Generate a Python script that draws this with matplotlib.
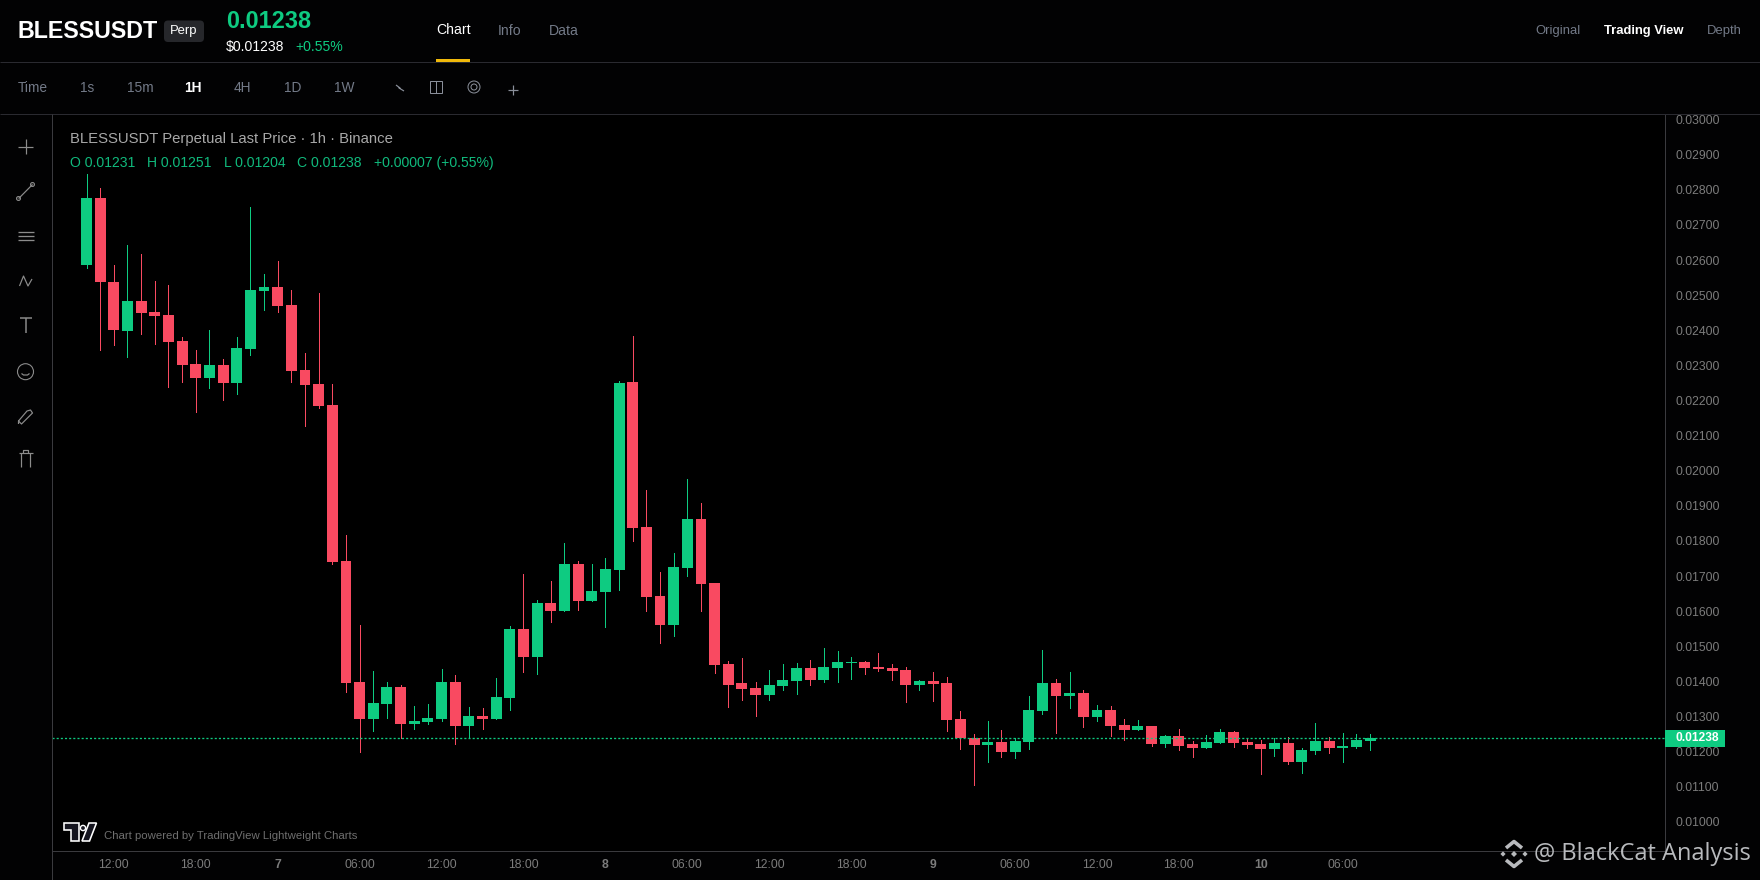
import numpy as np
import matplotlib
matplotlib.use("Agg")
import matplotlib.pyplot as plt
from matplotlib.patches import Rectangle, Circle, Polygon, FancyBboxPatch

# prices in units of 0.00001 USDT, one candle per hour
opens = [2586,2777,2538,2398,2484,2452,2444,2370,2304,2264,2301,2250,2347,2512,2524,2472,2287,2247,2188,1743,
         1398,1293,1336,1384,1279,1284,1293,1398,1273,1301,1293,1353,1549,1470,1623,1601,1734,1629,1655,1717,
         2253,1840,1643,1561,1723,1863,1680,1450,1396,1381,1361,1387,1401,1438,1404,1438,1452,1455,1441,1438,
         1433,1390,1401,1396,1293,1239,1219,1227,1199,1227,1316,1396,1358,1367,1299,1319,1276,1262,1273,1222,
         1244,1222,1210,1225,1256,1227,1222,1207,1225,1170,1202,1230,1210,1213,1231]
highs = [2846,2806,2586,2643,2618,2541,2529,2381,2344,2401,2319,2381,2752,2561,2598,2515,2336,2507,2247,1817,
         1561,1430,1398,1390,1330,1336,1435,1418,1327,1324,1410,1558,1706,1632,1686,1794,1743,1734,1752,2256,
         2384,1945,1712,1766,1977,1908,1680,1458,1467,1398,1433,1450,1452,1461,1495,1487,1470,1458,1481,1450,
         1441,1404,1427,1413,1316,1250,1287,1262,1239,1358,1490,1407,1427,1376,1333,1330,1293,1290,1273,1247,
         1264,1230,1247,1264,1259,1236,1233,1239,1242,1210,1282,1242,1253,1250,1251]
lows = [2578,2344,2358,2324,2390,2361,2239,2253,2167,2236,2202,2219,2330,2458,2452,2253,2128,2179,1734,1370,
        1199,1259,1296,1239,1264,1279,1287,1222,1242,1264,1293,1318,1427,1421,1569,1601,1603,1629,1555,1660,
        1800,1600,1509,1529,1700,1600,1424,1327,1347,1301,1347,1376,1364,1390,1398,1398,1407,1421,1430,1404,
        1341,1376,1344,1259,1207,1105,1170,1185,1182,1207,1307,1253,1324,1270,1287,1244,1233,1262,1216,1213,
        1205,1185,1210,1225,1213,1210,1136,1187,1165,1139,1193,1196,1170,1210,1204]
closes = [2777,2538,2401,2484,2450,2441,2367,2301,2264,2301,2250,2350,2515,2524,2470,2284,2244,2185,1740,1395,
          1293,1338,1384,1279,1287,1296,1398,1273,1301,1293,1356,1549,1470,1623,1601,1734,1629,1658,1720,2250,
          1837,1640,1561,1726,1863,1677,1447,1390,1378,1361,1390,1404,1438,1404,1441,1455,1455,1438,1435,1430,
          1390,1401,1393,1290,1239,1219,1227,1199,1230,1319,1396,1358,1367,1299,1319,1273,1262,1273,1222,1244,
          1216,1210,1227,1256,1225,1219,1207,1225,1170,1205,1230,1210,1216,1233,1238]
PRICE_UNIT = 1e-5

y_ticks = [0.010, 0.011, 0.012, 0.013, 0.014, 0.015, 0.016, 0.017, 0.018, 0.019, 0.020,
           0.021, 0.022, 0.023, 0.024, 0.025, 0.026, 0.027, 0.028, 0.029, 0.030]
x_tick_pos = [2, 8, 14, 20, 26, 32, 38, 44, 50, 56, 62, 68, 74, 80, 86, 92]
x_tick_lab = ["12:00", "18:00", "7", "06:00", "12:00", "18:00", "8", "06:00",
              "12:00", "18:00", "9", "06:00", "12:00", "18:00", "10", "06:00"]
x_tick_bold = {"7", "8", "9", "10"}

UP, DOWN = "#0ECB81", "#F94A61"
BG = "#000000"
GRAY, GRID = "#7C7C7C", "#3A3A3E"
BLUEGRAY = "#737A88"
plt.rcParams["font.family"] = ["Liberation Sans", "DejaVu Sans"]
px = 0.72  # points per pixel at 100 dpi

W, H = 1760, 880
L, R, T, B = 51.5, 1665.0, 114.5, 851.0
fig = plt.figure(figsize=(W / 100, H / 100), dpi=100, facecolor="#020203")

ax = fig.add_axes([L / W, 1 - B / H, (R - L) / W, (B - T) / H], facecolor=BG)
ax.set_xlim(-2.565, 115.6)
ax.set_ylim(0.00917, 0.030145)

o, h, l, c = [np.array(a) * PRICE_UNIT for a in (opens, highs, lows, closes)]
x = np.arange(len(o))
up = c >= o
cols = np.where(up, UP, DOWN)
ax.vlines(x, l, h, colors=cols, lw=1.0 * px, zorder=2, antialiased=False)
ax.bar(x, np.abs(c - o), bottom=np.minimum(o, c), width=0.8, color=cols, zorder=3, linewidth=0)

# last price
ax.axhline(c[-1], color=UP, lw=1.3 * px, ls=(0, (1.6, 1.6)), zorder=4)
tr = ax.get_yaxis_transform()
box_h = 16.7 * 0.00002849
ax.add_patch(Rectangle((1, c[-1] - box_h / 2), 60 / (R - L), box_h, transform=tr,
                       color=UP, clip_on=False, zorder=10, lw=0))
ax.text(1 + 10 / (R - L), c[-1], f"{c[-1]:.5f}", transform=tr, color="white", fontsize=12 * px,
        fontweight="bold", va="center", ha="left", zorder=11, clip_on=False)

# axes
ax.yaxis.tick_right()
ax.set_yticks(y_ticks)
ax.set_yticklabels([f"{v:.5f}" for v in y_ticks])
ax.set_xticks(x_tick_pos)
ax.set_xticklabels(x_tick_lab)
ax.tick_params(axis="y", length=0, pad=10 * px, labelsize=12.2 * px, labelcolor=GRAY)
ax.tick_params(axis="x", length=0, pad=8 * px, labelsize=12.2 * px, labelcolor=GRAY)
for t in ax.get_xticklabels():
    if t.get_text() in x_tick_bold:
        t.set_fontweight("bold")
for s in ("top",):
    ax.spines[s].set_visible(False)
for s in ("left", "right", "bottom"):
    ax.spines[s].set_color(GRID)
    ax.spines[s].set_linewidth(1 * px)

# page chrome, in pixel coordinates
ov = fig.add_axes([0, 0, 1, 1], facecolor="none", zorder=20)
ov.set_xlim(0, W)
ov.set_ylim(H, 0)
ov.axis("off")


def txt(xp, yp, s, size=14, color="white", weight="normal", ha="left", **kw):
    ov.text(xp, yp, s, fontsize=size * px, color=color, fontweight=weight, ha=ha, va="center", **kw)


def line(xs, ys, color="#8A8A8A", lw=1.2, **kw):
    ov.plot(xs, ys, color=color, lw=lw * px, solid_capstyle=kw.pop("cap", "butt"), **kw)


line([0, W], [62.3, 62.3], color="#2A2A30", lw=1)
line([0, W], [114.3, 114.3], color="#2A2A30", lw=1)
line([L, L], [114.3, H], color=GRID, lw=1)

txt(17.5, 31, "BLESSUSDT", 23.3, "white", "bold")
ov.add_patch(FancyBboxPatch((164, 20.5), 40, 21.5, boxstyle="round,pad=0,rounding_size=4",
                            fc="#26272B", ec="none", mutation_aspect=1))
txt(184, 31, "Perp", 13, "white", ha="center")
txt(226, 21.5, "0.01238", 23.5, UP, "bold")
txt(226, 47.3, "$0.01238", 14, "white")
txt(295, 47.3, "+0.55%", 14, UP)
txt(436, 30, "Chart", 14, "white")
ov.add_patch(Rectangle((436, 59), 34, 3, color="#F0B90B", lw=0))
txt(498, 31, "Info", 14, BLUEGRAY)
txt(549, 31, "Data", 14, BLUEGRAY)
txt(1535, 31, "Original", 13, BLUEGRAY)
txt(1603.5, 31, "Trading View", 13, "white", "bold")
txt(1707, 31, "Depth", 13, BLUEGRAY)

for xp, s, wt, col in [(18, "Time", "normal", BLUEGRAY), (80, "1s", "normal", BLUEGRAY),
                       (127, "15m", "normal", BLUEGRAY), (184, "1H", "bold", "white"),
                       (234, "4H", "normal", BLUEGRAY), (284, "1D", "normal", BLUEGRAY),
                       (334, "1W", "normal", BLUEGRAY)]:
    txt(xp, 88.5, s, 13.8, col, wt)

# toolbar icons
line([396, 400, 399, 404], [85, 88, 88, 91], color="#8A8F9A", lw=1.2)
ov.add_patch(Rectangle((430, 81), 12, 12, fc="none", ec="#8A8F9A", lw=1 * px))
line([436, 436], [81, 93], color="#8A8F9A", lw=1)
ov.add_patch(Circle((474, 87), 6, fc="none", ec="#8A8F9A", lw=1 * px))
ov.add_patch(Circle((474, 87), 3, fc="none", ec="#8A8F9A", lw=1 * px))
line([508, 518], [90, 90], color="#8A8F9A", lw=1.2)
line([513, 513], [85, 95], color="#8A8F9A", lw=1.2)

# drawing tools
IC = "#8C8C8C"
line([18, 33], [146.7, 146.7], IC)
line([25.5, 25.5], [139, 154], IC)
line([18.7, 32.5], [198.5, 184.5], IC)
ov.add_patch(Circle((18.5, 198.5), 2, fc="#222", ec=IC, lw=1 * px))
ov.add_patch(Circle((32.5, 184.5), 2, fc="#222", ec=IC, lw=1 * px))
for yy in (232, 236, 240.5):
    line([18, 33.5], [yy, yy], IC, lw=1.3)
line([19.5, 23.5, 28, 32], [286, 276, 286, 279], IC)
line([20, 32], [318.5, 318.5], IC, lw=1.5)
line([26, 26], [318.5, 333], IC, lw=1.5)
ov.add_patch(Circle((25.5, 371.7), 8, fc="none", ec=IC, lw=1.1 * px))
line([21.5, 23.5, 27.5, 29.5], [373.5, 375, 375, 373.5], IC)
line([18.5, 18.5, 21.5, 32.5, 30.5, 27, 18.5], [424, 421, 424, 413, 410, 411, 421], IC)
line([19, 32.5], [453, 453], IC)
line([21, 21], [453, 467], IC)
line([30, 30], [453, 467], IC)
line([23, 23, 28, 28], [453, 450, 450, 453], IC)

# chart legend
txt(70, 139, "BLESSUSDT Perpetual Last Price · 1h · Binance", 14.9, "#A8A8A8")
OH = "#10B97C"
for xp, s in [(70, "O 0.01231"), (147, "H 0.01251"), (224, "L 0.01204"),
              (297, "C 0.01238"), (374, "+0.00007 (+0.55%)")]:
    txt(xp, 163.3, s, 14, OH)

# TradingView logo
ov.add_patch(Polygon([(63.5, 823), (79, 823), (79, 841), (70.5, 841), (70.5, 830), (63.5, 830)],
                     fc="#15151F", ec="white", lw=1.6 * px))
ov.add_patch(Circle((83, 828), 2.6, fc="#15151F", ec="white", lw=1.4 * px))
ov.add_patch(Polygon([(89, 823), (96.5, 823), (89.5, 841), (82, 841)], fc="#15151F", ec="white", lw=1.6 * px))
txt(104, 836, "Chart powered by TradingView Lightweight Charts", 11.4, "#6F6F6F")

# watermark
WM = "#B8BABD"
ov.text(1534, 854, "@ BlackCat Analysis", fontsize=23.6 * px, color=WM, family="Open Sans",
        ha="left", va="center")
cx, cy = 1514, 854
line([cx - 8, cx, cx + 8], [cy - 6, cy - 12.5, cy - 6], WM, lw=3.6)
line([cx - 8, cx, cx + 8], [cy + 6, cy + 12.5, cy + 6], WM, lw=3.6)
for dx, dy, r in [(-11, 0, 2.6), (11, 0, 2.6), (0, 0, 3)]:
    ov.add_patch(Polygon([(cx + dx - r, cy + dy), (cx + dx, cy + dy - r),
                          (cx + dx + r, cy + dy), (cx + dx, cy + dy + r)], color=WM, lw=0))

fig.savefig("out.png", dpi=100, facecolor=fig.get_facecolor())
